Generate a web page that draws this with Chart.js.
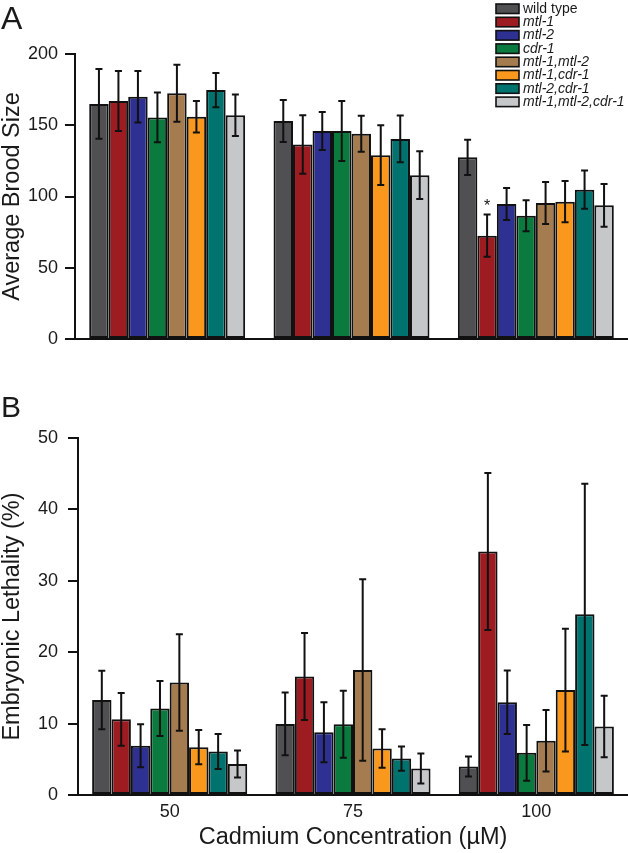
<!DOCTYPE html>
<html>
<head>
<meta charset="utf-8">
<script src="https://cdn.jsdelivr.net/npm/chart.js@4.4.1/dist/chart.umd.min.js"></script>
<style>
    body { margin: 0; background: #fff; width: 628px; height: 853px; overflow: hidden; position: relative; font-family: 'Liberation Sans', Arial, sans-serif; }
    canvas { position: absolute; left: 0; }
    #chart-brood { top: 0; }
    #chart-lethality { top: 360px; }
    .panel-letter { position: absolute; left: 1px; color: #1a1a1a; line-height: 1; }
</style>
</head>
<body>
<canvas id="chart-brood" width="628" height="360"></canvas>
<canvas id="chart-lethality" width="628" height="493"></canvas>
<div class="panel-letter" style="top: 2px; font-size: 32px;">A</div>
<div class="panel-letter" style="top: 392px; font-size: 30px;">B</div>

<script>
// categories (cadmium, uM)
let concentrations = ['50', '75', '100'];

// genotypes, in bar order
let genotypes = ['wild type', 'mtl-1', 'mtl-2', 'cdr-1', 'mtl-1,mtl-2', 'mtl-1,cdr-1', 'mtl-2,cdr-1', 'mtl-1,mtl-2,cdr-1'];
let genotypeItalic = [false, true, true, true, true, true, true, true];
let genotypeColours = ['#505052', '#9d1c22', '#2e3192', '#0a7a3e', '#a47c50', '#f9981d', '#00736f', '#c6c7c9'];

// panel A - average brood size (mean, error)
let broodWildType = [165, 153, 127.5];
let broodMtl1 = [167, 136.5, 72.5];
let broodMtl2 = [170, 146, 94.7];
let broodCdr1 = [155.5, 146, 86.5];
let broodMtl1Mtl2 = [172.5, 144, 95.4];
let broodMtl1Cdr1 = [156, 129, 96.4];
let broodMtl2Cdr1 = [174.7, 140.4, 104.8];
let broodTriple = [157, 115, 93.8];

let broodErrWildType = [24.5, 14.7, 12.4];
let broodErrMtl1 = [21, 20.6, 14.8];
let broodErrMtl2 = [18, 13.3, 11.2];
let broodErrCdr1 = [17.5, 21, 10.9];
let broodErrMtl1Mtl2 = [20, 12.6, 14.7];
let broodErrMtl1Cdr1 = [11, 21, 14.5];
let broodErrMtl2Cdr1 = [12, 16.4, 13.4];
let broodErrTriple = [14.5, 16.7, 15];

// significance star: [genotype index, concentration index]
let broodStars = [[1, 2]];

// panel B - embryonic lethality %
let lethalWildType = [13.3, 9.95, 4.0];
let lethalMtl1 = [10.6, 16.6, 34.1];
let lethalMtl2 = [6.9, 8.8, 13.0];
let lethalCdr1 = [12.1, 9.9, 5.9];
let lethalMtl1Mtl2 = [15.75, 17.5, 7.6];
let lethalMtl1Cdr1 = [6.7, 6.5, 14.7];
let lethalMtl2Cdr1 = [6.1, 5.1, 25.3];
let lethalTriple = [4.35, 3.7, 9.6];

let lethalErrWildType = [4.1, 4.4, 1.4];
let lethalErrMtl1 = [3.7, 6.1, 11];
let lethalErrMtl2 = [3.0, 4.2, 4.45];
let lethalErrCdr1 = [3.85, 4.7, 3.9];
let lethalErrMtl1Mtl2 = [6.75, 12.7, 4.3];
let lethalErrMtl1Cdr1 = [2.4, 2.7, 8.6];
let lethalErrMtl2Cdr1 = [2.45, 1.7, 18.3];
let lethalErrTriple = [1.9, 2.1, 4.3];

// y ticks
let broodTicks = { min: 0, max: 200, step: 50 };
let lethalTicks = { min: 0, max: 50, step: 10 };


Chart.defaults.font.family = "'Liberation Sans', Arial, sans-serif";
Chart.defaults.color = '#1a1a1a';

const INK = '#111';

function makeDatasets(values, errors) {
    let sets = [];
    for (let i = 0; i < genotypes.length; i++) {
        sets.push({
            label: genotypes[i],
            data: values[i],
            errors: errors[i],
            backgroundColor: genotypeColours[i],
            borderColor: INK,
            borderWidth: 2,
            borderSkipped: false,
            barPercentage: 1.0,
            categoryPercentage: 0.846
        });
    }
    return sets;
}

// draws the error bars on top of every bar
const errorBarPlugin = {
    id: 'errorBars',
    afterDatasetsDraw(chart) {
        let ctx = chart.ctx;
        let yScale = chart.scales.y;
        ctx.save();
        ctx.strokeStyle = INK;
        ctx.lineWidth = 2;
        chart.data.datasets.forEach((ds, i) => {
            let meta = chart.getDatasetMeta(i);
            meta.data.forEach((bar, j) => {
                let v = ds.data[j];
                let e = ds.errors[j];
                let top = yScale.getPixelForValue(v + e);
                let bot = yScale.getPixelForValue(Math.max(v - e, 0));
                ctx.beginPath();
                ctx.moveTo(bar.x, top);
                ctx.lineTo(bar.x, bot);
                ctx.moveTo(bar.x - 3.5, top);
                ctx.lineTo(bar.x + 3.5, top);
                ctx.moveTo(bar.x - 3.5, bot);
                ctx.lineTo(bar.x + 3.5, bot);
                ctx.stroke();
            });
        });
        ctx.restore();
    }
};

// asterisk above significant bars
const starPlugin = {
    id: 'stars',
    afterDatasetsDraw(chart, args, opts) {
        let ctx = chart.ctx;
        let yScale = chart.scales.y;
        ctx.save();
        ctx.fillStyle = INK;
        ctx.font = "16px 'Liberation Sans', Arial, sans-serif";
        ctx.textAlign = 'center';
        ctx.textBaseline = 'alphabetic';
        (opts.marks || []).forEach((m) => {
            let ds = chart.data.datasets[m[0]];
            let bar = chart.getDatasetMeta(m[0]).data[m[1]];
            let top = yScale.getPixelForValue(ds.data[m[1]] + ds.errors[m[1]]);
            ctx.fillText('*', bar.x, top - 4);
        });
        ctx.restore();
    }
};

// legend in the top right corner, gene names in italics
const geneLegendPlugin = {
    id: 'geneLegend',
    afterDraw(chart) {
        let ctx = chart.ctx;
        let x = 496, y = 4, rowH = 13.3;
        ctx.save();
        ctx.textBaseline = 'middle';
        ctx.textAlign = 'left';
        chart.data.datasets.forEach((ds, i) => {
            let top = y + i * rowH;
            ctx.fillStyle = ds.backgroundColor;
            ctx.fillRect(x, top, 23, 9.5);
            ctx.strokeStyle = INK;
            ctx.lineWidth = 1.6;
            ctx.strokeRect(x, top, 23, 9.5);
            ctx.fillStyle = '#1a1a1a';
            ctx.font = (genotypeItalic[i] ? 'italic ' : '') + "14px 'Liberation Sans', Arial, sans-serif";
            ctx.fillText(ds.label, x + 27, top + 5);
        });
        ctx.restore();
    }
};

function yAxis(ticks, title, width, labelPad) {
    return {
        min: ticks.min,
        max: ticks.max,
        ticks: { stepSize: ticks.step, font: { size: 18 }, padding: labelPad, color: '#1a1a1a' },
        grid: { drawOnChartArea: false, drawTicks: true, tickLength: 10, color: INK, lineWidth: 2 },
        border: { display: true, color: INK, width: 2 },
        title: { display: true, text: title, color: '#1a1a1a', font: { size: 23.5, lineHeight: 1 }, padding: { top: 1, bottom: 0 } },
        afterFit: (s) => { s.width = width; }
    };
}

// panel A
let broodChart = new Chart(document.getElementById('chart-brood'), {
    type: 'bar',
    data: {
        labels: concentrations,
        datasets: makeDatasets(
            [broodWildType, broodMtl1, broodMtl2, broodCdr1, broodMtl1Mtl2, broodMtl1Cdr1, broodMtl2Cdr1, broodTriple],
            [broodErrWildType, broodErrMtl1, broodErrMtl2, broodErrCdr1, broodErrMtl1Mtl2, broodErrMtl1Cdr1, broodErrMtl2Cdr1, broodErrTriple]
        )
    },
    options: {
        responsive: false,
        animation: false,
        layout: { padding: { top: 54, right: 0, left: 0, bottom: 0 } },
        plugins: {
            legend: { display: false },
            tooltip: { enabled: false },
            stars: { marks: broodStars }
        },
        scales: {
            x: {
                grid: { display: false },
                border: { display: true, color: INK, width: 2 },
                ticks: { display: false },
                afterFit: (s) => { s.height = 21; }
            },
            y: yAxis(broodTicks, 'Average Brood Size', 75, 7)
        }
    },
    plugins: [errorBarPlugin, starPlugin, geneLegendPlugin]
});

// panel B
let lethalChart = new Chart(document.getElementById('chart-lethality'), {
    type: 'bar',
    data: {
        labels: concentrations,
        datasets: makeDatasets(
            [lethalWildType, lethalMtl1, lethalMtl2, lethalCdr1, lethalMtl1Mtl2, lethalMtl1Cdr1, lethalMtl2Cdr1, lethalTriple],
            [lethalErrWildType, lethalErrMtl1, lethalErrMtl2, lethalErrCdr1, lethalErrMtl1Mtl2, lethalErrMtl1Cdr1, lethalErrMtl2Cdr1, lethalErrTriple]
        )
    },
    options: {
        responsive: false,
        animation: false,
        layout: { padding: { top: 78, right: 0, left: 0, bottom: 0 } },
        plugins: {
            legend: { display: false },
            tooltip: { enabled: false }
        },
        scales: {
            x: {
                grid: { display: false },
                border: { display: true, color: INK, width: 2 },
                ticks: { font: { size: 18 }, padding: -2, color: '#1a1a1a' },
                title: { display: true, text: 'Cadmium Concentration (µM)', color: '#1a1a1a', font: { size: 23.5, lineHeight: 1 }, padding: { top: 0, bottom: 4 } },
                afterFit: (s) => { s.height = 58; }
            },
            y: yAxis(lethalTicks, 'Embryonic Lethality (%)', 78, 10)
        }
    },
    plugins: [errorBarPlugin]
});
</script>
</body>
</html>
